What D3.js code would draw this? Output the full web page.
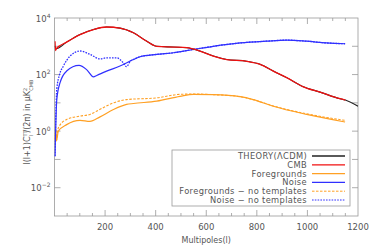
<!DOCTYPE html>
<meta charset="utf-8" />
<title>Power spectra</title>
<script src="https://d3js.org/d3.v7.min.js"></script>
<style>
  body { margin: 0; background: #fff; }
  svg { display: block; font-family: "DejaVu Sans", sans-serif; }
  text { fill: #555; }
</style>
<div id="chart"></div>
<script>
  // multipoles and spectra
  var theoryL = [2, 7, 48, 101, 154, 206, 259, 312, 365, 404, 470, 523, 575, 628, 681, 760, 813, 865, 918, 984, 1050, 1129, 1150, 1200];
  var theoryV = [1000, 820, 1400, 2600, 3900, 4800, 4400, 3000, 1500, 1000, 940, 890, 680, 450, 340, 295, 230, 133, 78, 37, 24, 14, 12.6, 7.6];

  var cmbL = [2, 4, 7, 48, 101, 154, 206, 259, 312, 365, 404, 470, 523, 575, 628, 681, 760, 813, 865, 918, 984, 1050, 1129, 1150];
  var cmbV = [1500, 700, 820, 1400, 2600, 3900, 4800, 4400, 3000, 1500, 1000, 940, 890, 680, 450, 340, 295, 230, 133, 78, 37, 24, 14, 12.6];

  var fgL = [2, 5, 8, 15, 48, 101, 140, 180, 233, 285, 312, 404, 496, 549, 628, 734, 786, 865, 997, 1149];
  var fgV = [0.5, 1.0, 0.45, 1.0, 1.7, 2.4, 2.2, 3.2, 5.8, 8.8, 9.5, 11.5, 17, 20, 19.5, 16.5, 13, 7.6, 3.9, 2.1];

  var noiseL = [2, 9, 22, 48, 97, 127, 154, 167, 206, 259, 312, 338, 404, 470, 549, 628, 734, 839, 918, 997, 1076, 1149];
  var noiseV = [0.13, 13, 52, 133, 210, 150, 83, 93, 132, 200, 340, 425, 515, 590, 770, 1000, 1310, 1520, 1650, 1510, 1310, 1230];

  var fgNtL = [2, 5, 8, 15, 48, 101, 140, 180, 233, 285, 404, 496, 549, 628, 734, 786, 865, 997, 1149];
  var fgNtV = [0.5, 1.2, 0.5, 1.3, 2.6, 3.4, 3.9, 5.9, 10, 13, 15, 20, 20.5, 19.5, 16.5, 13, 7.8, 4.1, 2.4];

  var noiseNtL = [2, 9, 20, 35, 61, 101, 140, 180, 206, 246, 272, 285, 300, 312, 338, 404, 470, 549, 628, 734, 839, 918, 997, 1076, 1149];
  var noiseNtV = [0.13, 30, 100, 200, 445, 680, 520, 360, 390, 390, 260, 190, 300, 340, 425, 515, 590, 770, 1000, 1310, 1520, 1650, 1510, 1310, 1230];

  var xTicks = [200, 400, 600, 800, 1000, 1200];
  var yTicks = [1e-2, 1e0, 1e2, 1e4];

  var width = 375, height = 250;
  var mLeft = 54.5, mRight = 358, mTop = 18, mBottom = 216;

  var svg = d3.select("#chart").append("svg")
    .attr("width", width).attr("height", height);

  var x = d3.scaleLinear().domain([0, 1200]).range([mLeft, mRight]);
  var y = d3.scaleLog().domain([1e-3, 1e4]).range([mBottom, mTop]);

  var axisColor = "#999";

  // frame
  svg.append("rect")
    .attr("x", mLeft).attr("y", mTop)
    .attr("width", mRight - mLeft).attr("height", mBottom - mTop)
    .attr("fill", "none").attr("stroke", axisColor).attr("stroke-width", 0.8);

  // x ticks (minor every 50, major every 200), bottom and top
  var g = svg.append("g").attr("stroke", axisColor).attr("stroke-width", 0.8);
  d3.range(50, 1200, 50).forEach(function (l) {
    var len = l % 200 === 0 ? 6 : 3;
    g.append("line").attr("x1", x(l)).attr("x2", x(l)).attr("y1", mBottom).attr("y2", mBottom - len);
    g.append("line").attr("x1", x(l)).attr("x2", x(l)).attr("y1", mTop).attr("y2", mTop + len);
  });
  // y ticks every decade
  d3.range(-2, 4).forEach(function (p) {
    var v = Math.pow(10, p);
    g.append("line").attr("x1", mLeft).attr("x2", mLeft + 6).attr("y1", y(v)).attr("y2", y(v));
    g.append("line").attr("x1", mRight).attr("x2", mRight - 6).attr("y1", y(v)).attr("y2", y(v));
  });

  svg.selectAll(".xt").data(xTicks).enter().append("text")
    .attr("x", d => x(d)).attr("y", 230)
    .attr("text-anchor", "middle").attr("font-size", 8.5)
    .text(d => d);

  var yl = svg.selectAll(".yt").data(yTicks).enter().append("text")
    .attr("x", mLeft - 4).attr("y", d => y(d) + 3.5)
    .attr("text-anchor", "end").attr("font-size", 8.5);
  yl.append("tspan").text("10");
  yl.append("tspan").attr("dy", -4).attr("font-size", 6)
    .text(d => String(Math.round(Math.log10(d))).replace("-", "\u2212"));

  svg.append("text").attr("x", (mLeft + mRight) / 2).attr("y", 243)
    .attr("text-anchor", "middle").attr("font-size", 8)
    .text("Multipoles(l)");

  var ylab = svg.append("text")
    .attr("transform", "translate(30,122) rotate(-90)")
    .attr("text-anchor", "middle").attr("font-size", 8);
  ylab.append("tspan").text("l(l+1)C");
  ylab.append("tspan").attr("font-size", 5).attr("dy", -3.5).text("TT");
  ylab.append("tspan").attr("font-size", 5).attr("dx", -6).attr("dy", 6).text("l");
  ylab.append("tspan").attr("dy", -2.5).text(" /(2\u03c0) in  \u03bcK");
  ylab.append("tspan").attr("font-size", 5).attr("dy", -3.5).text("2");
  ylab.append("tspan").attr("font-size", 5).attr("dx", -3).attr("dy", 6).text("CMB");

  var line = d3.line().x(d => x(d[0])).y(d => y(d[1])).curve(d3.curveMonotoneX);
  var zip = (a, b) => a.map((v, i) => [v, b[i]]);

  var colBlack = "#222", colRed = "#f01010", colOrange = "#ffa024", colBlue = "#3030ff";

  var series = [
    { name: "THEORY(\u039bCDM)", d: zip(theoryL, theoryV), c: colBlack, dash: null, w: 1.1 },
    { name: "CMB", d: zip(cmbL, cmbV), c: colRed, dash: null, w: 1.3 },
    { name: "Foregrounds", d: zip(fgL, fgV), c: colOrange, dash: null, w: 1.2 },
    { name: "Noise", d: zip(noiseL, noiseV), c: colBlue, dash: null, w: 1.2 },
    { name: "Foregrounds \u2212 no templates", d: zip(fgNtL, fgNtV), c: colOrange, dash: "2.5,1.5", w: 1.1 },
    { name: "Noise \u2212 no templates", d: zip(noiseNtL, noiseNtV), c: colBlue, dash: "1.6,1.2", w: 1.3 }
  ];

  var plot = svg.append("g");
  plot.append("clipPath").attr("id", "clip").append("rect")
    .attr("x", mLeft).attr("y", mTop).attr("width", mRight - mLeft).attr("height", mBottom - mTop);
  var drawOrder = [4, 5, 2, 3, 0, 1];
  drawOrder.forEach(function (i) {
    var s = series[i];
    plot.append("path").attr("clip-path", "url(#clip)")
      .attr("d", line(s.d)).attr("fill", "none")
      .attr("stroke", s.c).attr("stroke-width", s.w)
      .attr("stroke-dasharray", s.dash);
  });

  // legend
  var lg = svg.append("g");
  lg.append("rect").attr("x", 172).attr("y", 150).attr("width", 178).attr("height", 56)
    .attr("fill", "#fff").attr("stroke", axisColor).attr("stroke-width", 0.8);
  series.forEach(function (s, i) {
    var yy = 156 + i * 8.8;
    lg.append("text").attr("x", 307).attr("y", yy + 3)
      .attr("text-anchor", "end").attr("font-size", 8.3)
      .attr("letter-spacing", 0.35).text(s.name);
    lg.append("line").attr("x1", 312).attr("x2", 345).attr("y1", yy).attr("y2", yy)
      .attr("stroke", s.c).attr("stroke-width", s.dash ? 1 : 1.3)
      .attr("stroke-dasharray", s.dash);
  });
</script>
